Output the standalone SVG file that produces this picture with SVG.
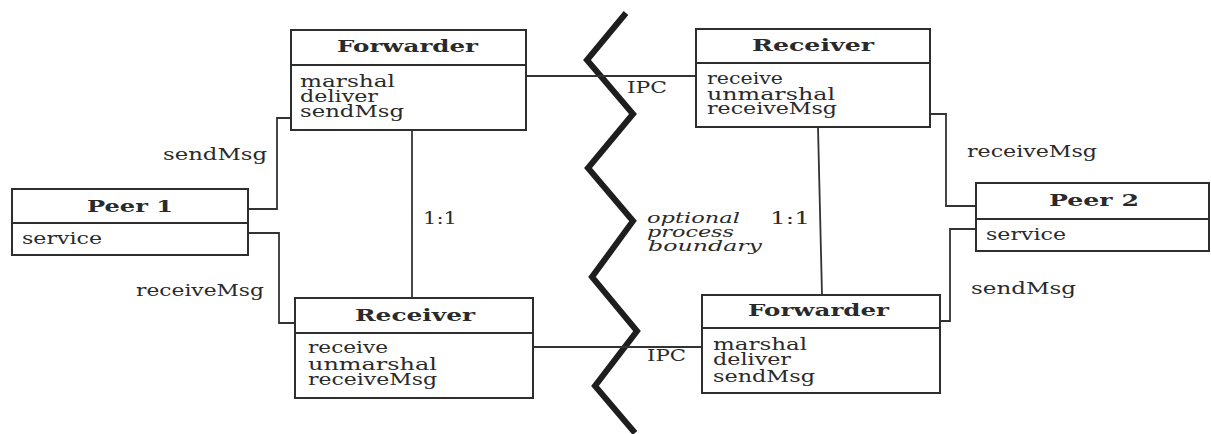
<svg xmlns="http://www.w3.org/2000/svg" width="1211" height="434" viewBox="0 0 1211 434">
  <style>
    .box { fill: #fff; stroke: #2e2e2e; stroke-width: 2; }
    .sep { stroke: #2e2e2e; stroke-width: 1.8; }
    .wire { fill: none; stroke: #333; stroke-width: 1.8; }
    .zig { fill: none; stroke: #1e1e1e; stroke-width: 6; stroke-linejoin: miter; }
    text { font-family: "DejaVu Serif", "Liberation Serif", serif; fill: #2a2a2a; }
    .hdr { font-weight: bold; font-size: 17px; }
    .op { font-size: 16px; }
    .lbl { font-size: 16px; }
    .note { font-style: italic; font-size: 15px; }
  </style>

  <rect width="1211" height="434" fill="#fff"/>

  <!-- optional process boundary -->
  <polyline class="zig" points="626,13 587,60 633,114 588,168 633,221 592,277 637,331 595,386 635,433"/>

  <!-- connectors -->
  <g id="connectors">
    <polyline class="wire" points="291,118 277,118 277,209 248,209"/>
    <polyline class="wire" points="248,233 279,233 279,323 295,323"/>
    <line class="wire" x1="412" y1="130" x2="412" y2="298"/>
    <line class="wire" x1="526" y1="76" x2="696" y2="76"/>
    <line class="wire" x1="533" y1="347" x2="702" y2="347"/>
    <line class="wire" x1="818" y1="127" x2="822" y2="295"/>
    <polyline class="wire" points="930,114 946,114 946,206 976,206"/>
    <polyline class="wire" points="976,229 950,229 950,321 940,321"/>

    <text class="lbl" x="163" y="160" textLength="104" lengthAdjust="spacingAndGlyphs">sendMsg</text>
    <text class="lbl" x="136" y="296" textLength="128" lengthAdjust="spacingAndGlyphs">receiveMsg</text>
    <text class="lbl" x="967" y="157" textLength="130" lengthAdjust="spacingAndGlyphs">receiveMsg</text>
    <text class="lbl" x="971" y="294" textLength="105" lengthAdjust="spacingAndGlyphs">sendMsg</text>
    <text class="lbl" x="627" y="93" textLength="40" lengthAdjust="spacingAndGlyphs">IPC</text>
    <text class="lbl" x="647" y="361" textLength="39" lengthAdjust="spacingAndGlyphs">IPC</text>
    <text class="lbl" x="423" y="224" textLength="34" lengthAdjust="spacingAndGlyphs">1:1</text>
    <text class="lbl" x="770" y="224" textLength="40" lengthAdjust="spacingAndGlyphs">1:1</text>
    <text class="note" x="647" y="223" textLength="93" lengthAdjust="spacingAndGlyphs">optional</text>
    <text class="note" x="647" y="237" textLength="87" lengthAdjust="spacingAndGlyphs">process</text>
    <text class="note" x="648" y="251" textLength="114" lengthAdjust="spacingAndGlyphs">boundary</text>
  </g>

  <!-- Forwarder (process A) -->
  <g id="forwarder-a">
    <rect class="box" x="291" y="30" width="235" height="100"/>
    <line class="sep" x1="291" y1="65" x2="526" y2="65"/>
    <text class="hdr" x="337" y="52" textLength="141" lengthAdjust="spacingAndGlyphs">Forwarder</text>
    <text class="op" x="300" y="87" textLength="95" lengthAdjust="spacingAndGlyphs">marshal</text>
    <text class="op" x="300" y="102" textLength="78" lengthAdjust="spacingAndGlyphs">deliver</text>
    <text class="op" x="300" y="117" textLength="104" lengthAdjust="spacingAndGlyphs">sendMsg</text>
  </g>

  <!-- Receiver (process B) -->
  <g id="receiver-b">
    <rect class="box" x="696" y="29" width="234" height="98"/>
    <line class="sep" x1="696" y1="63" x2="930" y2="63"/>
    <text class="hdr" x="752" y="51" textLength="122" lengthAdjust="spacingAndGlyphs">Receiver</text>
    <text class="op" x="707" y="84" textLength="76" lengthAdjust="spacingAndGlyphs">receive</text>
    <text class="op" x="707" y="100" textLength="128" lengthAdjust="spacingAndGlyphs">unmarshal</text>
    <text class="op" x="707" y="114" textLength="130" lengthAdjust="spacingAndGlyphs">receiveMsg</text>
  </g>

  <!-- Peer 1 -->
  <g id="peer-1">
    <rect class="box" x="12" y="189" width="236" height="66"/>
    <line class="sep" x1="12" y1="223" x2="248" y2="223"/>
    <text class="hdr" x="87" y="212" textLength="86" lengthAdjust="spacingAndGlyphs">Peer 1</text>
    <text class="op" x="22" y="244" textLength="80" lengthAdjust="spacingAndGlyphs">service</text>
  </g>

  <!-- Peer 2 -->
  <g id="peer-2">
    <rect class="box" x="976" y="183" width="233" height="68"/>
    <line class="sep" x1="976" y1="219" x2="1209" y2="219"/>
    <text class="hdr" x="1049" y="206" textLength="90" lengthAdjust="spacingAndGlyphs">Peer 2</text>
    <text class="op" x="986" y="240" textLength="80" lengthAdjust="spacingAndGlyphs">service</text>
  </g>

  <!-- Receiver (process A) -->
  <g id="receiver-a">
    <rect class="box" x="295" y="298" width="238" height="100"/>
    <line class="sep" x1="295" y1="333" x2="533" y2="333"/>
    <text class="hdr" x="355" y="321" textLength="120" lengthAdjust="spacingAndGlyphs">Receiver</text>
    <text class="op" x="308" y="353" textLength="80" lengthAdjust="spacingAndGlyphs">receive</text>
    <text class="op" x="308" y="370" textLength="129" lengthAdjust="spacingAndGlyphs">unmarshal</text>
    <text class="op" x="308" y="385" textLength="129" lengthAdjust="spacingAndGlyphs">receiveMsg</text>
  </g>

  <!-- Forwarder (process B) -->
  <g id="forwarder-b">
    <rect class="box" x="702" y="295" width="238" height="98"/>
    <line class="sep" x1="702" y1="328" x2="940" y2="328"/>
    <text class="hdr" x="748" y="316" textLength="141" lengthAdjust="spacingAndGlyphs">Forwarder</text>
    <text class="op" x="713" y="350" textLength="94" lengthAdjust="spacingAndGlyphs">marshal</text>
    <text class="op" x="713" y="365" textLength="78" lengthAdjust="spacingAndGlyphs">deliver</text>
    <text class="op" x="713" y="382" textLength="102" lengthAdjust="spacingAndGlyphs">sendMsg</text>
  </g>
</svg>
